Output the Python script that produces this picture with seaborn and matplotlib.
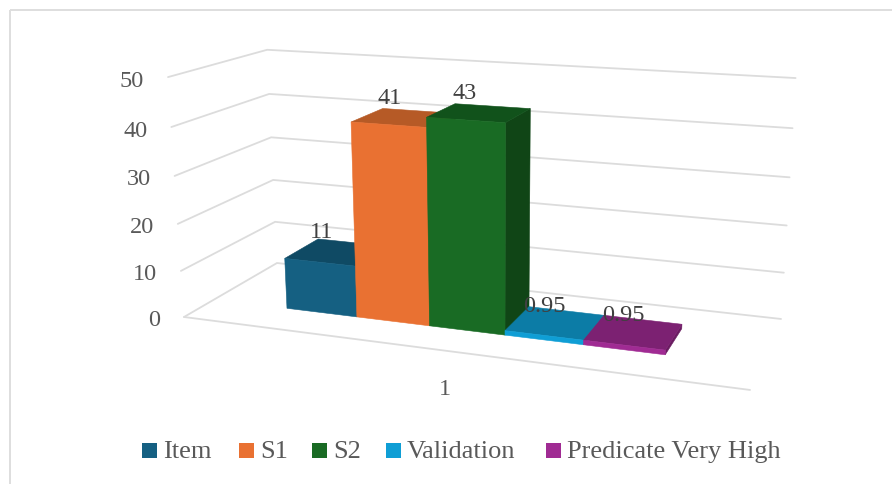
import numpy as np
import matplotlib
matplotlib.use("Agg")
import matplotlib.pyplot as plt
from matplotlib.patches import Polygon, Rectangle
import seaborn as sns

series_names = ["Item", "S1", "S2", "Validation", "Predicate Very High"]
series_values = [11, 41, 43, 0.95, 0.95]
value_labels = ["11", "41", "43", "0.95", "0.95"]
value_ticks = [0, 10, 20, 30, 40, 50]
category_label = "1"
front_colors = ["#156082", "#E97132", "#196B24", "#0F9ED5", "#A02B93"]
top_colors = ["#0F4A64", "#B65A26", "#11521B", "#0C7CA6", "#7C2172"]
side_colors = ["#0D3F55", "#8E4620", "#104516", "#0A6A8E", "#6A1C61"]

# Perspective camera: (u along the category, d into the depth, v value) to canvas pixels
CAMERA = np.array([
    [464.2, 129.4, -0.4831, 184.0],
    [20.0, -19.44, -4.873, 317.0],
    [-0.1358, 0.1314, -0.000971, 1.0],
])


def project(u, d, v):
    px, py, w = CAMERA @ np.array([u, d, v, 1.0])
    return px / w, py / w


def quad(ax, corners, color, zorder):
    ax.add_patch(Polygon([project(*c) for c in corners], closed=True,
                         facecolor=color, edgecolor=color, lw=0.4, zorder=zorder))


sns.set_theme(style="white")
plt.rcParams["font.family"] = ["Liberation Serif", "DejaVu Serif"]

fig = plt.figure(figsize=(8.92, 4.84), dpi=100)
ax = fig.add_axes([0, 0, 1, 1])
ax.set_xlim(0, 892)
ax.set_ylim(484, 0)
ax.axis("off")

grid = "#DCDCDC"
ax.add_patch(Rectangle((9.5, 9.5), 900, 500, fill=False, edgecolor="#DEDEDE", lw=1.4))

# Gridlines run along the side wall and the back wall
for tick in value_ticks:
    path = [project(0, 0, tick), project(0, 1, tick), project(1, 1, tick)]
    ax.plot(*zip(*path), color=grid, lw=1.3, zorder=1, solid_joinstyle="miter")
    x, y = project(0, 0, tick)
    ax.text(x - 24, y + 4, str(tick), ha="right", va="center",
            fontsize=17.5, color="#595959", zorder=5)
ax.plot(*zip(project(0, 0, 0), project(1, 0, 0)), color=grid, lw=1.3, zorder=1)

# One box per series, painted left to right
U_START, U_STEP = 0.15, 0.139
D_FRONT, D_BACK = 0.30, 0.685
for i, value in enumerate(series_values):
    u0, u1 = U_START + i * U_STEP, U_START + (i + 1) * U_STEP
    z = 2 + i * 0.1
    quad(ax, [(u1, D_FRONT, 0), (u1, D_BACK, 0), (u1, D_BACK, value), (u1, D_FRONT, value)],
         side_colors[i], z)
    quad(ax, [(u0, D_FRONT, value), (u1, D_FRONT, value), (u1, D_BACK, value), (u0, D_BACK, value)],
         top_colors[i], z)
    quad(ax, [(u0, D_FRONT, 0), (u1, D_FRONT, 0), (u1, D_FRONT, value), (u0, D_FRONT, value)],
         front_colors[i], z)

# Value labels sit above the top face; the flat boxes keep theirs closer
for i, (value, label) in enumerate(zip(series_values, value_labels)):
    x, y = project(U_START + (i + 0.5) * U_STEP, 0.5, value)
    shift, rise = (-15, 19) if value > 5 else (-11, 16)
    ax.text(x + shift, y - rise, label, ha="center", va="center",
            fontsize=17.5, color="#404040", zorder=6)

x, y = project(0.5, 0, 0)
ax.text(x - 1, y + 39, category_label, ha="center", va="center",
        fontsize=17.5, color="#595959", zorder=5)

# Legend row
legend_x = [142, 239, 312, 386, 546]
for name, color, lx in zip(series_names, front_colors, legend_x):
    ax.add_patch(Rectangle((lx, 443), 15, 15, facecolor=color, edgecolor="none", zorder=5))
    ax.text(lx + 21, 452, name, ha="left", va="center",
            fontsize=19, color="#595959", zorder=5)

fig.savefig("out.png", dpi=100)
